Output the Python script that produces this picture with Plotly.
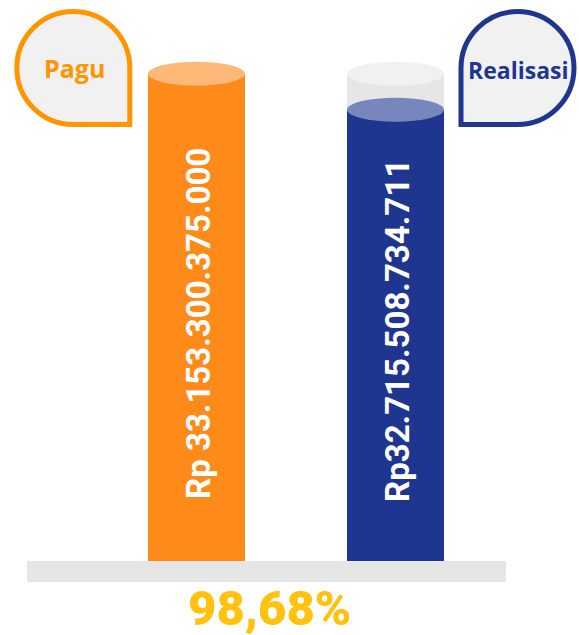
import plotly.graph_objects as go

# ---- data ----
categories = ["Pagu", "Realisasi"]
values_rp = [33153300375000, 32715508734711]
value_labels = ["Rp 33.153.300.375.000", "Rp32.715.508.734.711"]

# ---- style / layout constants ----
W, H = 579, 635
PLOT_BOTTOM_PX = 561
Y_RANGE = [27.23, 34.05]          # trillions of rupiah (axis does not start at zero)
X_RANGE = [-0.987, 1.922]
BAR_W = 0.487
ORANGE = "#FE8A19"
ORANGE_TOP = "#FEB877"
NAVY = "#1F3691"
NAVY_TOP = "#7886BE"
GHOST = "#E6E6E6"
GHOST_TOP = "#F1F1F1"
BUBBLE_ORANGE = "#FF9501"
BUBBLE_NAVY = "#1F3691"
BUBBLE_FILL = "#F1F1F1"
GOLD = "#FFC20E"

vals = [v / 1e12 for v in values_rp]
pct = values_rp[1] / values_rp[0] * 100
pct_label = f"{pct:.2f}".replace(".", ",") + "%"

def PX(x):
    return x / W

def PY(y):
    return (PLOT_BOTTOM_PX - y) / PLOT_BOTTOM_PX

units_per_px = (Y_RANGE[1] - Y_RANGE[0]) / PLOT_BOTTOM_PX
ry = 12 * units_per_px

fig = go.Figure()
# ghost (capacity) cylinder behind Realisasi
fig.add_trace(go.Bar(x=[categories[1]], y=[vals[0]], width=BAR_W,
                     marker=dict(color=GHOST, line=dict(width=0)), hoverinfo="skip"))
fig.add_trace(go.Bar(x=categories, y=vals, width=BAR_W,
                     marker=dict(color=[ORANGE, NAVY], line=dict(width=0))))

shapes = []
# ghost top
shapes.append(dict(type="circle", xref="x", yref="y", x0=1 - BAR_W / 2, x1=1 + BAR_W / 2,
                   y0=vals[0] - ry, y1=vals[0] + ry, fillcolor=GHOST_TOP, line=dict(width=0), layer="above"))
tops = [ORANGE_TOP, NAVY_TOP]
for i, v in enumerate(vals):
    shapes.append(dict(type="circle", xref="x", yref="y", x0=i - BAR_W / 2, x1=i + BAR_W / 2,
                       y0=v - ry, y1=v + ry, fillcolor=tops[i], line=dict(width=0), layer="above"))

# base platform
shapes.append(dict(type="rect", xref="paper", yref="paper", x0=PX(27), x1=PX(506),
                   y0=PY(582), y1=PY(561), fillcolor="#E6E6E6", line=dict(width=0), layer="below"))

K = 0.5523
def bubble(cx, cy, r, corner):
    def p(x, y):
        return f"{PX(x):.5f},{PY(y):.5f}"
    c = K * r
    if corner == "br":
        d = (f"M {p(cx + r, cy)} "
             f"C {p(cx + r, cy - c)} {p(cx + c, cy - r)} {p(cx, cy - r)} "
             f"C {p(cx - c, cy - r)} {p(cx - r, cy - c)} {p(cx - r, cy)} "
             f"C {p(cx - r, cy + c)} {p(cx - c, cy + r)} {p(cx, cy + r)} "
             f"L {p(cx + r, cy + r)} Z")
    else:
        d = (f"M {p(cx - r, cy)} "
             f"C {p(cx - r, cy - c)} {p(cx - c, cy - r)} {p(cx, cy - r)} "
             f"C {p(cx + c, cy - r)} {p(cx + r, cy - c)} {p(cx + r, cy)} "
             f"C {p(cx + r, cy + c)} {p(cx + c, cy + r)} {p(cx, cy + r)} "
             f"L {p(cx - r, cy + r)} Z")
    return d

shapes.append(dict(type="path", xref="paper", yref="paper", path=bubble(73.3, 68, 56.5, "br"),
                   fillcolor=BUBBLE_FILL, line=dict(color=BUBBLE_ORANGE, width=5), layer="above"))
shapes.append(dict(type="path", xref="paper", yref="paper", path=bubble(517.5, 68, 56.5, "bl"),
                   fillcolor=BUBBLE_FILL, line=dict(color=BUBBLE_NAVY, width=5), layer="above"))

annotations = [
    dict(text=categories[0], xref="paper", yref="paper", x=PX(74), y=PY(68), showarrow=False,
         xanchor="center", yanchor="middle",
         font=dict(family="Open Sans", size=25, color=BUBBLE_ORANGE, weight=700)),
    dict(text=categories[1], xref="paper", yref="paper", x=PX(518), y=PY(70), showarrow=False,
         xanchor="center", yanchor="middle",
         font=dict(family="Open Sans", size=23, color=BUBBLE_NAVY, weight=700)),
    dict(text=pct_label, xref="paper", yref="paper", x=PX(269), y=PY(608), showarrow=False,
         xanchor="center", yanchor="middle",
         font=dict(family="Roboto", size=49, color=GOLD, weight=900)),
]
text_bottoms = [501, 504]
for i, lab in enumerate(value_labels):
    annotations.append(dict(text=lab, xref="x", yref="paper", x=i, y=PY(text_bottoms[i]),
                            xanchor="center", yanchor="bottom", xshift=2, textangle=-90,
                            showarrow=False,
                            font=dict(family="Roboto", size=33, color="white", weight=700)))

fig.update_layout(
    width=W, height=H, margin=dict(l=0, r=0, t=0, b=H - PLOT_BOTTOM_PX, pad=0),
    paper_bgcolor="white", plot_bgcolor="white", showlegend=False,
    barmode="overlay", bargap=0,
    xaxis=dict(visible=False, range=X_RANGE, type="category",
               categoryorder="array", categoryarray=categories),
    yaxis=dict(visible=False, range=Y_RANGE),
    shapes=shapes, annotations=annotations,
)

fig.write_html("out.html", config={"displayModeBar": False},
               post_script="document.body.style.margin='0px';document.body.style.overflow='hidden';")
